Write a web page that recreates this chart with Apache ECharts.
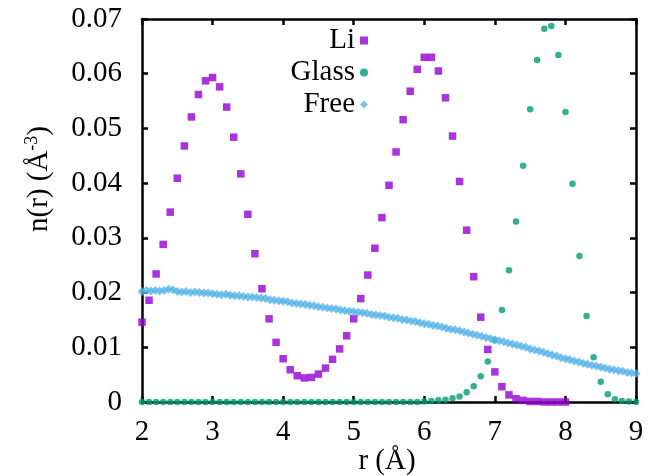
<!DOCTYPE html>
<html>
<head>
<meta charset="utf-8">
<script src="https://cdn.jsdelivr.net/npm/echarts@6/dist/echarts.min.js"></script>
<style>
  html, body { margin: 0; padding: 0; background: #fff; }
  #chart { width: 659px; height: 476px; }
</style>
</head>
<body>
<div id="chart"></div>
<script>
// Number density profiles n(r) of Li, glass and free species versus r (Å)

// Li: sampled every 0.1 Å from r = 2.0 to 8.0
const liStart = 2.0;
const liStep = 0.1;
const liValues = [
  0.0146, 0.0186, 0.0234, 0.0288, 0.0347, 0.0409, 0.0468, 0.0521, 0.0562, 0.0587,
  0.0593, 0.0576, 0.0539, 0.0484, 0.0417, 0.0343, 0.0271, 0.0207, 0.0152, 0.0109,
  0.0079, 0.0059, 0.0048, 0.0044, 0.0045, 0.0051, 0.0062, 0.0078, 0.0097, 0.0121,
  0.0152, 0.0189, 0.0232, 0.0281, 0.0337, 0.0396, 0.0457, 0.0516, 0.0568, 0.0608,
  0.0630, 0.0630, 0.0605, 0.0556, 0.0486, 0.0403, 0.0314, 0.0229, 0.0155, 0.0096,
  0.0055, 0.0028, 0.0013, 0.0006, 0.0003, 0.0001, 0.0001, 0.0000, 0.0000, 0.0000,
  0.0000
];

// Glass: sampled every 0.1 Å from r = 2.0 to 9.0
const glassStart = 2.0;
const glassStep = 0.1;
const glassValues = [
  0, 0, 0, 0, 0, 0, 0, 0, 0, 0,
  0, 0, 0, 0, 0, 0, 0, 0, 0, 0,
  0, 0, 0, 0, 0, 0, 0, 0, 0, 0,
  0, 0, 0, 0, 0, 0, 0, 0, 0, 0,
  0.0001, 0.0002, 0.0003, 0.0004, 0.0007, 0.0010, 0.0018, 0.0029, 0.0047, 0.0074,
  0.0113, 0.0168, 0.0241, 0.0330, 0.0432, 0.0535, 0.0625, 0.0682, 0.0687, 0.0634,
  0.0530, 0.0399, 0.0267, 0.0157, 0.0082, 0.0037, 0.0014, 0.0005, 0.0002, 0.0001,
  0.0000
];

// Free: sampled every 0.0625 Å from r = 2.0 to 9.0
const freeStart = 2.0;
const freeStep = 0.0625;
const freeValues = [
  0.0202, 0.0204, 0.0203, 0.0204, 0.0203, 0.0204, 0.0206, 0.0205, 0.0202, 0.0201,
  0.0202, 0.0200, 0.0201, 0.0200, 0.0199, 0.0199, 0.0198, 0.0197, 0.0196, 0.0197,
  0.0195, 0.0194, 0.0194, 0.0193, 0.0192, 0.0192, 0.0191, 0.0190, 0.0189, 0.0187,
  0.0186, 0.0185, 0.0184, 0.0183, 0.0181, 0.0180, 0.0179, 0.0178, 0.0177, 0.0176,
  0.0174, 0.0173, 0.0172, 0.0171, 0.0170, 0.0168, 0.0167, 0.0166, 0.0165, 0.0164,
  0.0163, 0.0162, 0.0160, 0.0159, 0.0158, 0.0157, 0.0155, 0.0154, 0.0153, 0.0151,
  0.0150, 0.0148, 0.0147, 0.0145, 0.0143, 0.0142, 0.0140, 0.0139, 0.0137, 0.0135,
  0.0133, 0.0132, 0.0130, 0.0128, 0.0126, 0.0124, 0.0122, 0.0120, 0.0118, 0.0116,
  0.0114, 0.0112, 0.0110, 0.0108, 0.0106, 0.0104, 0.0102, 0.0100, 0.0097, 0.0095,
  0.0093, 0.0091, 0.0088, 0.0086, 0.0084, 0.0081, 0.0079, 0.0077, 0.0075, 0.0073,
  0.0071, 0.0069, 0.0067, 0.0066, 0.0064, 0.0062, 0.0060, 0.0059, 0.0057, 0.0056,
  0.0054, 0.0053, 0.0052
];

const seriesNames = ['Li', 'Glass', 'Free'];
const xTickLabels = ['2', '3', '4', '5', '6', '7', '8', '9'];
const yTickLabels = ['0', '0.01', '0.02', '0.03', '0.04', '0.05', '0.06', '0.07'];

// pair each value with its sampling position r
function toPoints(start, step, values) {
  return values.map((v, i) => [+(start + i * step).toFixed(4), v]);
}

const FONT = '"Liberation Serif", "DejaVu Serif", serif';
const FS = 29;
const INK = '#000';

const axisLine = { show: true, onZero: false, lineStyle: { color: INK, width: 2.5 } };
const axisTick = { show: true, inside: true, length: 6, lineStyle: { color: INK, width: 2.5 } };

const chart = echarts.init(document.getElementById('chart'), null, { renderer: 'canvas' });

function legendFor(name, top) {
  return {
    data: [name],
    orient: 'vertical',
    align: 'right',
    right: 291,
    top: top,
    padding: 0,
    itemWidth: 8,
    itemHeight: 8,
    selectedMode: false,
    textStyle: { fontFamily: FONT, fontSize: FS, color: INK }
  };
}

chart.setOption({
  animation: false,
  backgroundColor: '#fff',
  grid: { left: 142, right: 23, top: 19, bottom: 74, containLabel: false, outerBoundsMode: 'none' },
  legend: [legendFor(seriesNames[0], 26), legendFor(seriesNames[1], 58), legendFor(seriesNames[2], 90)],
  xAxis: [
    {
      type: 'value', min: 2, max: 9, interval: 1, position: 'bottom',
      axisLine, axisTick, splitLine: { show: false },
      axisLabel: {
        margin: 16, fontFamily: FONT, fontSize: FS, color: INK,
        formatter: (v) => xTickLabels[Math.round(v - 2)]
      }
    },
    {
      type: 'value', min: 2, max: 9, interval: 1, position: 'top',
      axisLine, axisTick, splitLine: { show: false }, axisLabel: { show: false }
    }
  ],
  yAxis: [
    {
      type: 'value', min: 0, max: 0.07, interval: 0.01, position: 'left',
      axisLine, axisTick, splitLine: { show: false },
      axisLabel: {
        margin: 20, fontFamily: FONT, fontSize: FS, color: INK,
        formatter: (v) => yTickLabels[Math.round(v / 0.01)]
      }
    },
    {
      type: 'value', min: 0, max: 0.07, interval: 0.01, position: 'right',
      axisLine, axisTick, splitLine: { show: false }, axisLabel: { show: false }
    }
  ],
  graphic: [
    {
      // y-axis title, read bottom to top
      type: 'text',
      x: 39, y: 179,
      rotation: Math.PI / 2,
      style: {
        text: 'n(r) (Å{sup|-3})',
        fontFamily: FONT, fontSize: FS, fill: INK,
        align: 'center', verticalAlign: 'middle',
        rich: {
          sup: { fontFamily: FONT, fontSize: 18, fill: INK, verticalAlign: 'top', padding: [0, 0, 14, 0] }
        }
      }
    },
    {
      // x-axis title
      type: 'text',
      x: 387, y: 461,
      style: {
        text: 'r (Å)',
        fontFamily: FONT, fontSize: FS, fill: INK,
        align: 'center', verticalAlign: 'middle'
      }
    }
  ],
  series: [
    {
      name: seriesNames[0], type: 'scatter', symbol: 'rect', symbolSize: 7.5,
      itemStyle: { color: '#9400d3' },
      data: toPoints(liStart, liStep, liValues)
    },
    {
      name: seriesNames[1], type: 'scatter', symbol: 'circle', symbolSize: 6.5,
      itemStyle: { color: '#009e73' },
      data: toPoints(glassStart, glassStep, glassValues)
    },
    {
      name: seriesNames[2], type: 'scatter', symbol: 'diamond', symbolSize: 9,
      itemStyle: { color: '#56b4e9' },
      data: toPoints(freeStart, freeStep, freeValues)
    }
  ]
});
</script>
</body>
</html>
